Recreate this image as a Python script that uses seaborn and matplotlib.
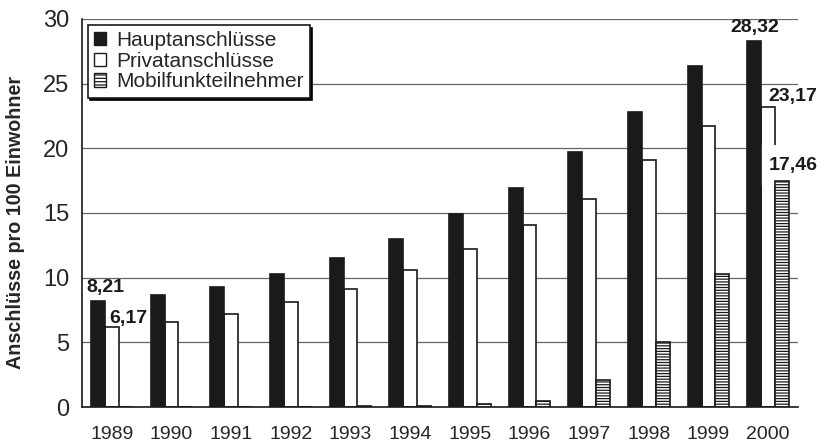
import numpy as np
import pandas as pd
import matplotlib.pyplot as plt
import seaborn as sns
from matplotlib.patches import Patch

# ── Data ─────────────────────────────────────────────────────────────────────
jahre = ["1989", "1990", "1991", "1992", "1993", "1994",
         "1995", "1996", "1997", "1998", "1999", "2000"]
haupt = [8.21, 8.66, 9.26, 10.26, 11.55, 12.97, 14.9, 16.9, 19.75, 22.8, 26.35, 28.32]
privat = [6.17, 6.55, 7.19, 8.12, 9.15, 10.6, 12.22, 14.07, 16.06, 19.08, 21.7, 23.17]
mobil = [0.0, 0.0, 0.0, 0.01, 0.04, 0.1, 0.2, 0.5, 2.09, 5.03, 10.26, 17.46]
reihen = ["Hauptanschlüsse", "Privatanschlüsse", "Mobilfunkteilnehmer"]

df = pd.DataFrame({
    "Jahr": jahre * 3,
    "Wert": haupt + privat + mobil,
    "Reihe": [reihen[0]] * 12 + [reihen[1]] * 12 + [reihen[2]] * 12,
})

# ── Style ────────────────────────────────────────────────────────────────────
sns.set_style("white")
plt.rcParams["font.family"] = ["Liberation Sans", "DejaVu Sans"]
plt.rcParams["hatch.linewidth"] = 0.9
plt.rcParams["hatch.color"] = "#222222"

fig = plt.figure(figsize=(8.24, 4.44), dpi=100)
ax = fig.add_axes([0.0995, 0.0833, 0.869, 0.874])

farben = {reihen[0]: "#1a1a1a", reihen[1]: "white", reihen[2]: "white"}
sns.barplot(data=df, x="Jahr", y="Wert", hue="Reihe", palette=farben,
            width=0.7, edgecolor="#1a1a1a", linewidth=1.2, ax=ax, legend=False)

for p in ax.containers[0].patches:
    p.set_zorder(4)
for p in ax.containers[2].patches:
    p.set_hatch("------")
    p.set_zorder(4)

# ── Axes ─────────────────────────────────────────────────────────────────────
ax.set_xlim(-0.5, 11.5)
ax.set_ylim(0, 30)
ax.set_yticks(np.arange(0, 31, 5))
ax.yaxis.grid(True, color="#666666", linewidth=0.9)
ax.set_axisbelow(True)
for s in ["top", "right"]:
    ax.spines[s].set_visible(False)
for s in ["left", "bottom"]:
    ax.spines[s].set_color("#1a1a1a")
    ax.spines[s].set_linewidth(1.2)

ax.set_xticks(np.arange(-0.5, 12, 1))
ax.set_xticklabels([])
ax.set_xticks(np.arange(12), minor=True)
ax.set_xticklabels(jahre, minor=True, fontsize=14)
ax.tick_params(axis="x", which="major", direction="out", length=6, width=1.2)
ax.tick_params(axis="x", which="minor", length=0, pad=13.5)
ax.tick_params(axis="y", direction="out", length=5, width=1.2, labelsize=17, pad=4)
ax.set_xlabel("")
ax.set_ylabel("Anschlüsse pro 100 Einwohner", fontsize=14.2, fontweight="bold")
ax.yaxis.set_label_coords(-0.08, 0.475)

# ── Value labels ─────────────────────────────────────────────────────────────
hb = ax.containers[0].patches
pb = ax.containers[1].patches
mb = ax.containers[2].patches


def center(p):
    return p.get_x() + p.get_width() / 2


lab = dict(fontsize=14, fontweight="bold", color="#1a1a1a")
ax.text(center(hb[0]) + 0.12, haupt[0] + 0.4, f"{haupt[0]:.2f}".replace(".", ","),
        ha="center", va="bottom", zorder=5, **lab)
ax.text(pb[0].get_x() + 0.07, privat[0] + 0.05, f"{privat[0]:.2f}".replace(".", ","),
        ha="left", va="bottom", zorder=5, **lab)
ax.text(center(hb[-1]), haupt[-1] + 0.35, f"{haupt[-1]:.2f}".replace(".", ","),
        ha="center", va="bottom", zorder=5, **lab)
ax.text(pb[-1].get_x() + 0.12, privat[-1] + 0.15, f"{privat[-1]:.2f}".replace(".", ","),
        ha="left", va="bottom", clip_on=False, zorder=5, **lab)
ax.text(pb[-1].get_x() + 0.12, mobil[-1] + 0.55, f"{mobil[-1]:.2f}".replace(".", ","),
        ha="left", va="bottom", clip_on=False, zorder=3,
        bbox=dict(facecolor="white", edgecolor="none", pad=9), **lab)

# ── Legend ───────────────────────────────────────────────────────────────────
handles = [
    Patch(facecolor="#1a1a1a", edgecolor="#1a1a1a", linewidth=1.0),
    Patch(facecolor="white", edgecolor="#1a1a1a", linewidth=1.0),
    Patch(facecolor="white", edgecolor="#1a1a1a", linewidth=1.0, hatch="-----"),
]
leg = ax.legend(handles, reihen, loc="upper left", bbox_to_anchor=(0.008, 0.985),
                fontsize=15, frameon=True, fancybox=False, shadow={"color": "black", "alpha": 1},
                edgecolor="#1a1a1a", handlelength=0.6, handleheight=0.6,
                handletextpad=0.45, labelspacing=0.08, borderpad=0.3, borderaxespad=0)
leg.get_frame().set_linewidth(1.2)
leg.set_zorder(6)

fig.savefig("out.png", dpi=100)
